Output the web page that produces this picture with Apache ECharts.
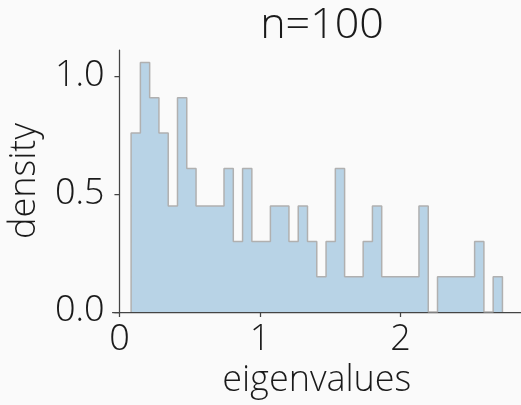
<!DOCTYPE html>
<html>
<head>
<meta charset="utf-8">
<script src="https://cdn.jsdelivr.net/npm/echarts@6/dist/echarts.min.js"></script>
<style>
html,body{margin:0;padding:0;background:#fafafa;}
#chart{width:521px;height:405px;}
</style>
</head>
<body>
<div id="chart"></div>
<script>
// Histogram of eigenvalues, n = 100, 40 bins
const binEdges = [0.083,0.149,0.215,0.281,0.347,0.413,0.479,0.545,0.611,0.677,
  0.744,0.810,0.876,0.942,1.008,1.074,1.140,1.206,1.272,1.338,
  1.404,1.470,1.536,1.602,1.668,1.734,1.800,1.866,1.932,1.998,
  2.065,2.131,2.197,2.263,2.329,2.395,2.461,2.527,2.593,2.659,2.725];
const densities = [0.76,1.06,0.91,0.76,0.45,0.91,0.61,0.45,0.45,0.45,
  0.61,0.30,0.61,0.30,0.30,0.45,0.45,0.30,0.45,0.30,
  0.15,0.30,0.61,0.15,0.15,0.30,0.45,0.15,0.15,0.15,
  0.15,0.45,0.00,0.15,0.15,0.15,0.15,0.30,0.00,0.15];
const xTicks = [0, 1, 2];
const yTicks = [0, 0.5, 1.0];
const titleText = 'n=100';
const xName = 'eigenvalues';
const yName = 'density';

// step outline points
const pts = [[binEdges[0], 0]];
for (let i = 0; i < densities.length; i++) pts.push([binEdges[i], densities[i]]);
pts.push([binEdges[binEdges.length - 1], densities[densities.length - 1]]);
pts.push([binEdges[binEdges.length - 1], 0]);

const FONT = "'Open Sans Light', 'Open Sans'";
const FW = 300;
const TXT = '#1a1a1a';
const AX = '#444444';

const chart = echarts.init(document.getElementById('chart'), null, {renderer: 'canvas'});
chart.setOption({
  backgroundColor: '#fafafa',
  animation: false,
  title: {
    text: titleText,
    left: 317, top: 0, textAlign: 'center',
    textStyle: {fontFamily: FONT, fontSize: 43, fontWeight: FW, color: TXT}
  },
  grid: {left: 112, top: 50, width: 410.6, height: 267.3, containLabel: false},
  xAxis: {
    type: 'value', min: -0.049, max: 2.857,
    name: xName, nameLocation: 'middle', nameGap: 44,
    nameTextStyle: {fontFamily: FONT, fontSize: 36, fontWeight: FW, color: TXT},
    axisLine: {show: true, onZero: false, lineStyle: {color: AX, width: 1.25}},
    axisTick: {show: true, length: 5, lineStyle: {color: AX, width: 1.25}, customValues: xTicks},
    axisLabel: {fontFamily: FONT, fontSize: 36, fontWeight: FW, color: TXT, margin: 11, customValues: xTicks,
      formatter: v => String(v)},
    splitLine: {show: false}
  },
  yAxis: {
    type: 'value', min: 0, max: 1.1128,
    name: yName, nameLocation: 'middle', nameGap: 62, nameRotate: 90,
    nameTextStyle: {fontFamily: FONT, fontSize: 36, fontWeight: FW, color: TXT},
    axisLine: {show: true, lineStyle: {color: AX, width: 1.25}},
    axisTick: {show: true, length: 5, lineStyle: {color: AX, width: 1.25}, customValues: yTicks},
    axisLabel: {fontFamily: FONT, fontSize: 36, fontWeight: FW, color: TXT, margin: 8, customValues: yTicks,
      formatter: v => v.toFixed(1)},
    splitLine: {show: false}
  },
  series: [{
    type: 'line',
    step: 'end',
    data: pts,
    symbol: 'none',
    lineStyle: {color: '#b0b0b0', width: 1.5},
    areaStyle: {color: '#b8d3e6', opacity: 1},
    z: 1
  }]
});
</script>
</body>
</html>
